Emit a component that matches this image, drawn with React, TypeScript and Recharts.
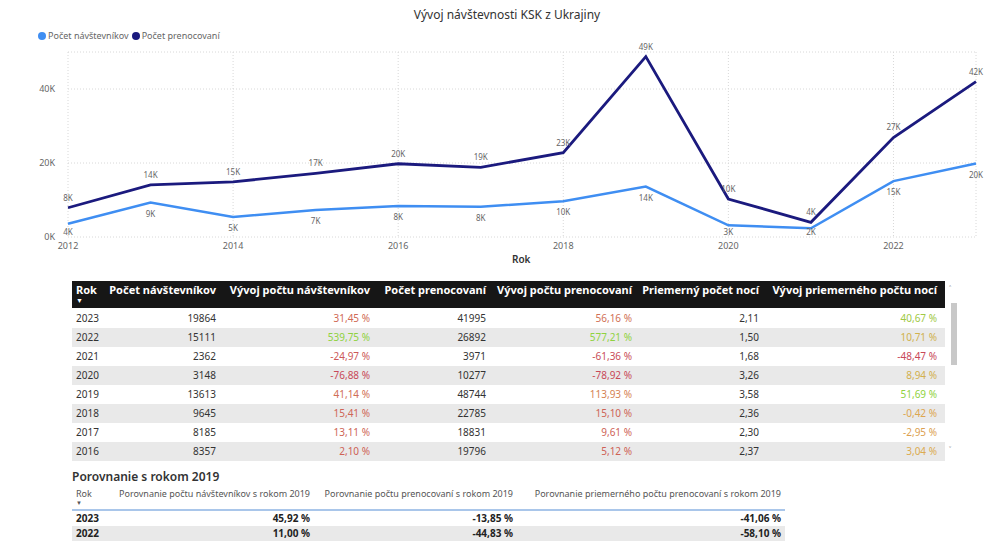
import React from 'react'
import { LineChart, Line, XAxis, YAxis, CartesianGrid } from 'recharts'

const years = [2012, 2013, 2014, 2015, 2016, 2017, 2018, 2019, 2020, 2021, 2022, 2023]
const visitors = [3600, 9300, 5400, 7300, 8357, 8185, 9645, 13613, 3148, 2362, 15111, 19864]
const nights = [7900, 14100, 14900, 17200, 19796, 18831, 22785, 48744, 10277, 3971, 26892, 41995]
const xTicks = [2012, 2014, 2016, 2018, 2020, 2022]
const yTicks = [0, 20000, 40000]

// detail table (sorted by Rok desc)
const tableYears = [2023, 2022, 2021, 2020, 2019, 2018, 2017, 2016]
const visitorsGrowth = [31.45, 539.75, -24.97, -76.88, 41.14, 15.41, 13.11, 2.1]
const nightsGrowth = [56.16, 577.21, -61.36, -78.92, 113.93, 15.1, 9.61, 5.12]
const avgNights = [2.11, 1.5, 1.68, 3.26, 3.58, 2.36, 2.3, 2.37]
const avgGrowth = [40.67, 10.71, -48.47, 8.94, 51.69, -0.42, -2.95, 3.04]

// comparison with 2019
const compYears = [2023, 2022]
const compVisitors = [45.92, 11.0]
const compNights = [-13.85, -44.83]
const compAvg = [-41.06, -58.1]

const LIGHT = '#3f8ef2'
const DARK = '#1b1a7e'
const FONT = '"Segoe UI", "Noto Sans", sans-serif'

const chartData = years.map((y, i) => ({ year: y, visitors: visitors[i], nights: nights[i] }))

const kFmt = (v: number) => `${Math.round(v / 1000)}K`
const pct = (v: number) => `${v.toFixed(2).replace('.', ',')} %`
const dec = (v: number) => v.toFixed(2).replace('.', ',')

// 3-colour gradient like the Power BI conditional formatting
const RED = [200, 72, 88]
const YEL = [222, 170, 80]
const GRN = [143, 210, 64]
function gradient(v: number, list: number[]) {
  const min = Math.min(...list)
  const max = Math.max(...list)
  const mid = (min + max) / 2
  let a = RED, b = YEL, t = 0
  if (v <= mid) { t = (v - min) / (mid - min) }
  else { a = YEL; b = GRN; t = (v - mid) / (max - mid) }
  const c = a.map((ch, k) => Math.round(ch + (b[k] - ch) * t))
  return `rgb(${c[0]},${c[1]},${c[2]})`
}

const DarkLabel = (p: any) => (
  <text x={p.x} y={p.y - 7} textAnchor="middle" fontSize={8} fill="#666" fontFamily={FONT}>
    {kFmt(p.value)}
  </text>
)
// labels under the light line are kept above the x tick row
const LightLabel = (p: any) => (
  <text x={p.x} y={Math.min(p.y + 14, 235)} textAnchor="middle" fontSize={8} fill="#666" fontFamily={FONT}>
    {kFmt(p.value)}
  </text>
)

const cols1 = [
  { x: 72, w: 32, left: true },
  { x: 104, w: 116 },
  { x: 220, w: 154 },
  { x: 374, w: 116 },
  { x: 490, w: 146 },
  { x: 636, w: 127 },
  { x: 763, w: 178 },
]
const cols2 = [
  { x: 72, w: 32, left: true },
  { x: 104, w: 210 },
  { x: 314, w: 203 },
  { x: 517, w: 268 },
]

const headers1 = ['Rok', 'Počet návštevníkov', 'Vývoj počtu návštevníkov', 'Počet prenocovaní', 'Vývoj počtu prenocovaní', 'Priemerný počet nocí', 'Vývoj priemerného počtu nocí']
const headers2 = ['Rok', 'Porovnanie počtu návštevníkov s rokom 2019', 'Porovnanie počtu prenocovaní s rokom 2019', 'Porovnanie priemerného počtu prenocovaní s rokom 2019']

function Cell({ col, top, h, children, style }: any) {
  return (
    <div
      style={{
        position: 'absolute', left: col.x, top, width: col.w, height: h, lineHeight: `${h}px`,
        textAlign: col.left ? 'left' : 'right', paddingLeft: col.left ? 4 : 0, paddingRight: col.left ? 0 : 4,
        boxSizing: 'border-box', whiteSpace: 'nowrap', ...style,
      }}
    >
      {children}
    </div>
  )
}

export default function App() {
  const rowH = 19
  const rowTop = 309
  return (
    <div style={{ position: 'absolute', left: 0, top: 0, width: 993, height: 541, background: '#fff', fontFamily: FONT, overflow: 'hidden' }}>
      <div style={{ position: 'absolute', left: 0, top: 6, width: 1014, textAlign: 'center', fontSize: 12, color: '#333' }}>
        Vývoj návštevnosti KSK z Ukrajiny
      </div>
      <div style={{ position: 'absolute', left: 38, top: 29, fontSize: 9, color: '#666', display: 'flex', alignItems: 'center' }}>
        <span style={{ width: 8, height: 8, borderRadius: 4, background: LIGHT, marginRight: 2 }} />
        <span style={{ marginRight: 3 }}>Počet návštevníkov</span>
        <span style={{ width: 8, height: 8, borderRadius: 4, background: DARK, marginRight: 2 }} />
        <span>Počet prenocovaní</span>
      </div>

      <div style={{ position: 'absolute', left: 0, top: 0 }}>
        <LineChart width={993} height={270} data={chartData} margin={{ top: 52, right: 17, bottom: 13, left: 0 }}>
          <CartesianGrid stroke="#d8d8d8" strokeDasharray="1 2" />
          <XAxis
            dataKey="year" type="number" domain={[2012, 2023]} ticks={xTicks}
            axisLine={false} tickLine={false} tickSize={0} tickMargin={6} height={20}
            tick={{ fontSize: 9, fill: '#666', fontFamily: FONT }}
          />
          <YAxis
            domain={[0, 50000]} ticks={yTicks} width={68}
            axisLine={false} tickLine={false} tickSize={0} tickMargin={13}
            tickFormatter={kFmt}
            tick={{ fontSize: 9, fill: '#666', fontFamily: FONT }}
          />
          <Line dataKey="visitors" stroke={LIGHT} strokeWidth={2.5} dot={false} isAnimationActive={false} label={LightLabel} />
          <Line dataKey="nights" stroke={DARK} strokeWidth={2.8} dot={false} isAnimationActive={false} label={DarkLabel} />
        </LineChart>
      </div>
      <div style={{ position: 'absolute', left: 512, top: 252, fontSize: 10, fontWeight: 600, color: '#333' }}>Rok</div>

      {/* detail table */}
      <div style={{ position: 'absolute', left: 72, top: 281, width: 873, height: 27, background: '#161616' }} />
      {headers1.map((h, i) => (
        <Cell key={h} col={cols1[i]} top={281} h={18} style={{ color: '#fff', fontWeight: 700, fontSize: 11 }}>{h}</Cell>
      ))}
      <div style={{ position: 'absolute', left: 76, top: 296, fontSize: 7, color: '#fff' }}>▼</div>
      {tableYears.map((y, r) => {
        const yi = years.indexOf(y)
        const top = rowTop + r * rowH
        const cells = [
          { t: String(y) },
          { t: String(visitors[yi]) },
          { t: pct(visitorsGrowth[r]), c: gradient(visitorsGrowth[r], visitorsGrowth) },
          { t: String(nights[yi]) },
          { t: pct(nightsGrowth[r]), c: gradient(nightsGrowth[r], nightsGrowth) },
          { t: dec(avgNights[r]) },
          { t: pct(avgGrowth[r]), c: gradient(avgGrowth[r], avgGrowth) },
        ]
        return (
          <React.Fragment key={y}>
            <div style={{ position: 'absolute', left: 72, top, width: 873, height: rowH, background: r % 2 ? '#e9e9e9' : '#fff' }} />
            {cells.map((c, i) => (
              <Cell key={i} col={cols1[i]} top={top} h={rowH} style={{ fontSize: 10, color: c.c || '#333' }}>{c.t}</Cell>
            ))}
          </React.Fragment>
        )
      })}
      {/* scrollbar */}
      <div style={{ position: 'absolute', left: 949, top: 283, fontSize: 8, color: '#888' }}>˄</div>
      <div style={{ position: 'absolute', left: 951, top: 303, width: 6, height: 62, background: '#c8c8c8' }} />
      <div style={{ position: 'absolute', left: 949, top: 444, fontSize: 8, color: '#888' }}>˅</div>

      {/* comparison with 2019 */}
      <div style={{ position: 'absolute', left: 72, top: 468, fontSize: 12, fontWeight: 600, color: '#333' }}>Porovnanie s rokom 2019</div>
      {headers2.map((h, i) => (
        <Cell key={h} col={cols2[i]} top={487} h={14} style={{ fontSize: 9, color: '#555' }}>{h}</Cell>
      ))}
      <div style={{ position: 'absolute', left: 76, top: 499, fontSize: 6, color: '#555' }}>▼</div>
      <div style={{ position: 'absolute', left: 72, top: 509, width: 713, height: 2, background: '#a9c6ea' }} />
      {compYears.map((y, r) => {
        const top = 511 + r * 15
        const cells = [String(y), pct(compVisitors[r]), pct(compNights[r]), pct(compAvg[r])]
        return (
          <React.Fragment key={y}>
            <div style={{ position: 'absolute', left: 72, top, width: 713, height: 15, background: r % 2 ? '#e9e9e9' : '#fff' }} />
            {cells.map((t, i) => (
              <Cell key={i} col={cols2[i]} top={top} h={15} style={{ fontSize: 10, fontWeight: 700, color: '#222' }}>{t}</Cell>
            ))}
          </React.Fragment>
        )
      })}
    </div>
  )
}
